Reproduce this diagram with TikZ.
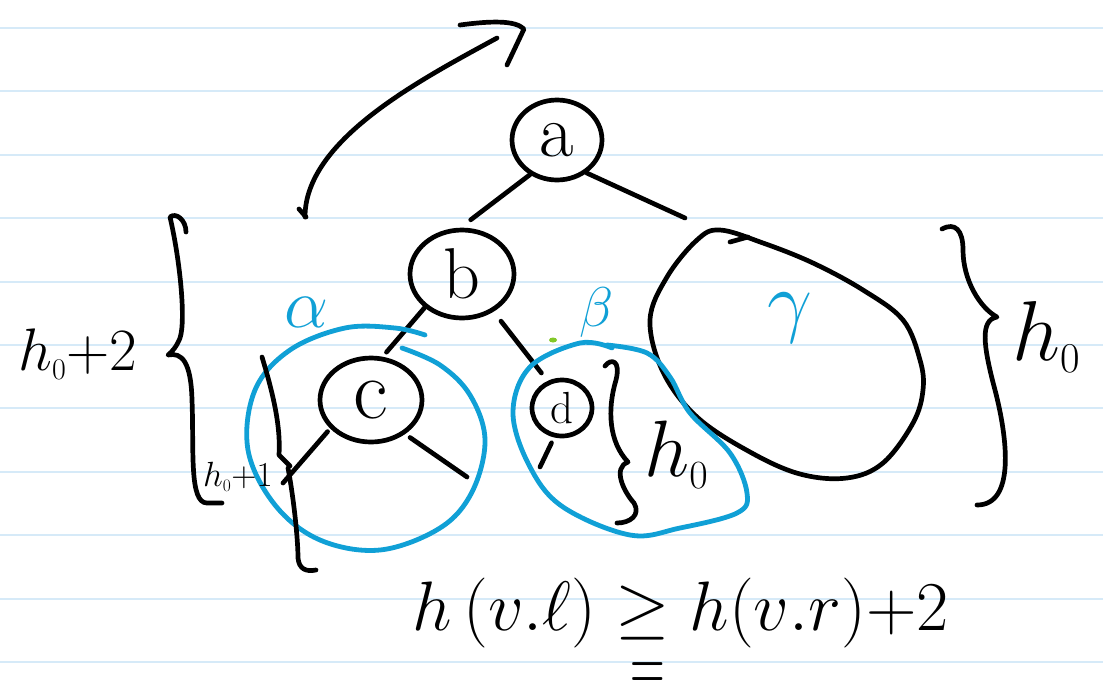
\RequirePackage{fix-cm}
\documentclass[tikz,border=0pt]{standalone}
\usepackage{graphicx}
\usetikzlibrary{shapes.geometric}
\definecolor{inkblue}{RGB}{16,160,214}
\definecolor{rulecol}{RGB}{214,234,248}
\definecolor{inkgreen}{RGB}{130,200,40}
\begin{document}
\begin{tikzpicture}[x=1pt,y=-1pt,
  ink/.style={line width=4.7pt, line cap=round, line join=round, black},
  blueink/.style={line width=4.8pt, line cap=round, line join=round, inkblue},
  rule/.style={line width=2pt, rulecol},
  treenode/.style={draw, ellipse, line width=4.7pt, inner sep=0pt, black},
  lbl/.style={inner sep=0pt, black},
  greek/.style={inner sep=0pt, inkblue}]
\useasboundingbox (0,0) rectangle (1103,689);
\clip (0,0) rectangle (1103,689);
\fill[white] (0,0) rectangle (1103,689);
\foreach \k in {0,...,10} \draw[rule] (0,{28+63.4*\k}) -- (1103,{28+63.4*\k});

% tree nodes
\node[treenode, minimum width=90pt, minimum height=80pt, font=\fontsize{75}{80}\selectfont] (a) at (557,140) {a};
\node[treenode, minimum width=104pt, minimum height=88pt, font=\fontsize{72}{80}\selectfont] (b) at (462,274) {b};
\node[treenode, minimum width=102pt, minimum height=84pt, font=\fontsize{85}{90}\selectfont] (c) at (371,400) {c};
\node[treenode, minimum width=60pt, minimum height=56pt, font=\fontsize{45}{50}\selectfont] (d) at (562,408) {d};

% free ends
\coordinate (gtop) at (685,218);
\coordinate (cl) at (283,483);
\coordinate (cr) at (467,477);
\coordinate (dl) at (540,467);

% edges
\draw[ink, shorten >=13pt] (a.232) -- (b.92);
\draw[ink] (a.-48) -- (gtop);
\draw[ink, shorten >=6pt] (b.222) -- (c.75);
\draw[ink, shorten <=12pt, shorten >=10pt] (b.-50) -- (d.118);
\draw[ink, shorten <=4pt] (c.215) -- (cl);
\draw[ink, shorten <=6pt] (c.-45) -- (cr);
\draw[ink, shorten <=6pt] (d.-105) -- (dl);

% subtree gamma
\draw[ink] plot[smooth cycle, tension=0.6] coordinates {(720,230) (763,243) (813,263) (863,290) (903,320) (920,360) (923,390) (913,423) (883,463) (847,478) (800,474) (750,452) (697,417) (663,372) (650,320) (667,277) (697,240)};
\draw[ink] (730,242) -- (748,237);
\node[greek, font=\fontsize{80}{90}\selectfont] (gl) at (790,318) {$\gamma$};

% blue subtrees alpha and beta
\draw[blueink] plot[smooth, tension=0.6] coordinates {(402,348) (440,365) (470,395) (485,440) (472,492) (440,528) (380,550) (320,540) (275,505) (248,450) (255,390) (290,350) (345,328) (395,328) (425,335)};
\draw[blueink] plot[smooth, tension=0.6] coordinates {(607,345) (647,353) (670,377) (690,413) (730,453) (747,493) (737,513) (680,528) (630,535) (563,507) (530,467) (513,413) (530,367) (580,343) (612,348)};
\node[greek, font=\fontsize{70}{80}\selectfont] (al) at (307,312) {$\alpha$};
\node[greek, font=\fontsize{56}{60}\selectfont] (bl) at (597,312) {$\beta$};
\fill[inkgreen] (553,340) ellipse [x radius=4pt, y radius=2.5pt];

% rotation arrow
\draw[ink] (305,217) .. controls (305,140) and (420,80) .. (497,38);
\draw[ink] (460,25) .. controls (490,21) and (515,20) .. (524,29) -- (507,65);
\draw[ink] (299,209) -- (306,217);

% left big brace
\draw[ink] (186,232) .. controls (186,220) and (176,212) .. (170,217) .. controls (180,260) and (186,320) .. (180,338) .. controls (177,346) and (172,352) .. (168,355) .. controls (182,352) and (191,362) .. (192,400) .. controls (194,450) and (189,503) .. (207,503) -- (222,503);
\node[lbl, anchor=base west, font=\fontsize{60}{70}\selectfont] (lh) at (18,370) {$h_{\scriptscriptstyle 0}{+}2$};

% inner left brace
\draw[ink] (262,357) .. controls (272,390) and (281,425) .. (279,455) -- (290,466);
\draw[ink] (288,468) .. controls (294,500) and (298,540) .. (298,558) .. controls (299,569) and (306,572) .. (316,570);
\node[lbl, anchor=base west, font=\fontsize{35}{40}\selectfont] (ih) at (203,486) {$h_{\scriptscriptstyle 0}{+}1$};

% brace next to d
\draw[ink] (605,366) .. controls (611,358) and (621,360) .. (616,380) .. controls (607,410) and (609,442) .. (628,462) .. controls (612,468) and (624,492) .. (634,503) .. controls (641,515) and (630,523) .. (617,523);
\node[lbl, anchor=base west, font=\fontsize{80}{90}\selectfont] (dh) at (644,476) {$h_{\scriptscriptstyle 0}$};

% right big brace
\draw[ink] (942,229) .. controls (955,222) and (963,230) .. (963,250) .. controls (963,280) and (980,308) .. (997,317) .. controls (980,320) and (983,345) .. (995,390) .. controls (1008,440) and (1015,505) .. (977,505);
\node[lbl, anchor=base west, font=\fontsize{85}{90}\selectfont] (rh) at (1012,360) {$h_{\scriptscriptstyle 0}$};

% formula
\node[lbl, anchor=base west, font=\fontsize{70}{80}\selectfont] (fm) at (412,630) {$h\,(v.\ell)\geq h(v.r){+}2$};
\node[lbl, anchor=base, font=\fontsize{60}{70}\selectfont] (eq) at (648,684) {\raisebox{-8pt}[0pt][0pt]{\scalebox{0.8}[1.4]{$=$}}};
\end{tikzpicture}
\end{document}
